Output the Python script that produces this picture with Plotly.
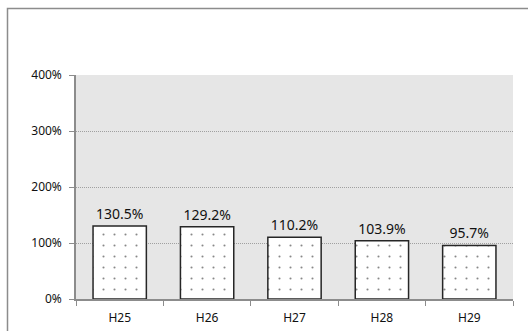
import plotly.graph_objects as go

categories = ["H25", "H26", "H27", "H28", "H29"]
values = [1.305, 1.292, 1.102, 1.039, 0.957]
y_ticks = [0, 1, 2, 3, 4]
y_tick_labels = ["0%", "100%", "200%", "300%", "400%"]

fig = go.Figure()
fig.add_trace(go.Bar(
    x=categories, y=values,
    marker=dict(
        color="white",
        line=dict(color="#262626", width=1.5),
        pattern=dict(shape=".", size=11, solidity=0.03, fgcolor="#111111", bgcolor="white"),
    ),
    texttemplate="%{y:.1%}", textposition="outside", cliponaxis=False,
    textfont=dict(family="Noto Sans", size=14, color="#111111"),
    width=0.61,
))

L, R, T, B = 76, 15, 75, 32
W, H = 528, 331
pw, ph = W - L - R, H - T - B

fig.update_layout(
    width=W, height=H,
    margin=dict(l=L, r=R, t=T, b=B, pad=0, autoexpand=False),
    paper_bgcolor="white", plot_bgcolor="#e6e6e6",
    showlegend=False,
    font=dict(family="Noto Sans", size=12, color="#111111"),
    shapes=[dict(type="rect", xref="paper", yref="paper",
                 x0=(7.5 - L) / pw, x1=1.2, y0=-0.5, y1=(H - B - 8.5) / ph,
                 line=dict(color="#8c8c8c", width=1.5), fillcolor="rgba(0,0,0,0)", layer="below")],
)
fig.update_xaxes(
    showline=True, linecolor="#8c8c8c", linewidth=1.5,
    ticks="outside", tickson="boundaries", ticklen=5, tickcolor="#8c8c8c",
    showgrid=False, tickfont=dict(size=12, family="Noto Sans"),
    ticklabelstandoff=7, automargin=False,
)
fig.update_yaxes(
    range=[0, 4], tickvals=y_ticks, ticktext=y_tick_labels,
    showline=True, linecolor="#8c8c8c", linewidth=1.5,
    ticks="outside", ticklen=5, tickcolor="#8c8c8c",
    showgrid=True, gridcolor="#a0a0a0", griddash="1px,1px", gridwidth=1,
    zeroline=False, ticklabelstandoff=5, automargin=False,
    tickfont=dict(size=12, family="Noto Sans"),
)

fig.write_html("out.html", config={"displayModeBar": False},
               post_script="document.body.style.margin='0';document.body.style.overflow='hidden';")
